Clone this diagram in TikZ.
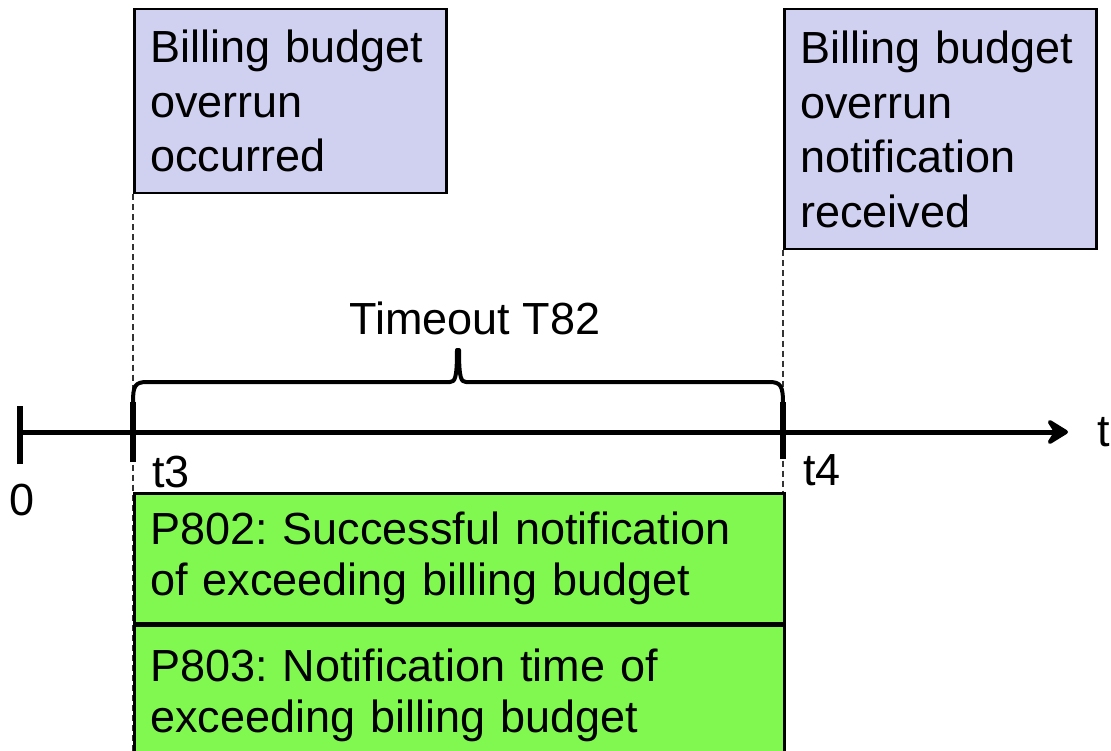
\documentclass[tikz,border=0pt]{standalone}
\usepackage{fontspec}
\setmainfont{Liberation Sans}
\usetikzlibrary{arrows.meta}
\definecolor{evfill}{RGB}{208,208,240}
\definecolor{kpifill}{RGB}{128,248,80}
\frenchspacing
\begin{document}
\begin{tikzpicture}[x=1pt, y=-1pt,
	evbox/.style = {draw, line width=2.5pt, fill=evfill, align=left, inner xsep=16pt, text width=280pt, minimum width=312pt, anchor=north west, font=\fontsize{45}{54.5}\selectfont},
	kpibox/.style = {draw, line width=2.5pt, fill=kpifill, align=left, inner xsep=16pt, text width=618pt, minimum width=650pt, anchor=north west, font=\fontsize{45}{51}\selectfont},
	lbl/.style = {inner sep=0pt, font=\fontsize{45}{54}\selectfont},
	guide/.style = {line width=1.2pt, dash pattern=on 6pt off 4pt, black!80},
	axis/.style = {line width=5pt},
	tick/.style = {line width=6pt}]
	\useasboundingbox (0,0) rectangle (1111,751);
	% events
	\node[evbox, minimum height=184pt] (occ) at (133,8) {Billing budget\\overrun\\occurred};
	\node[evbox, minimum height=240pt] (rec) at (783,8) {Billing budget\\overrun\\notification\\received};
	% time axis
	\coordinate (zero) at (20,432);
	\coordinate (tend) at (1068,432);
	\coordinate (t3) at (133,432);
	\coordinate (t4) at (783,432);
	\draw[guide] (occ.south west) -- (133,751);
	\draw[guide] (rec.south west) -- (783,751);
	\draw[axis, -{Stealth[length=26pt, width=32pt, inset=10pt, round]}] (zero) -- (tend);
	\draw[tick] ([yshift=-32pt]zero) -- ([yshift=26pt]zero);
	\draw[tick] ([yshift=-30pt]t3) -- ([yshift=30pt]t3);
	\draw[tick] ([yshift=-27pt]t4) -- ([yshift=30pt]t4);
	\node[lbl] (lzero) at (22,500) {0};
	\node[lbl] (lt3) at (171,472) {t3};
	\node[lbl] (lt4) at (822,470) {t4};
	\node[lbl] (lt) at (1104,432) {t};
	% timeout brace
	\draw[line width=4pt, line join=round]
		(133,402) .. controls (133,386) and (135,382) .. (147,382) -- (450,382)
		.. controls (455,382) and (457,378) .. (457,350) -- (459,350)
		.. controls (459,378) and (461,382) .. (466,382) -- (769,382)
		.. controls (781,382) and (783,386) .. (783,404);
	\node[lbl] (tmo) at (475,318) {Timeout T82};
	% KPIs
	\node[kpibox, minimum height=130pt] (p802) at (133,492) {P802: Successful notification\\of exceeding billing budget};
	\node[kpibox, minimum height=140pt] (p803) at (p802.south west) {P803: Notification time of\\exceeding billing budget};
\end{tikzpicture}
\end{document}
